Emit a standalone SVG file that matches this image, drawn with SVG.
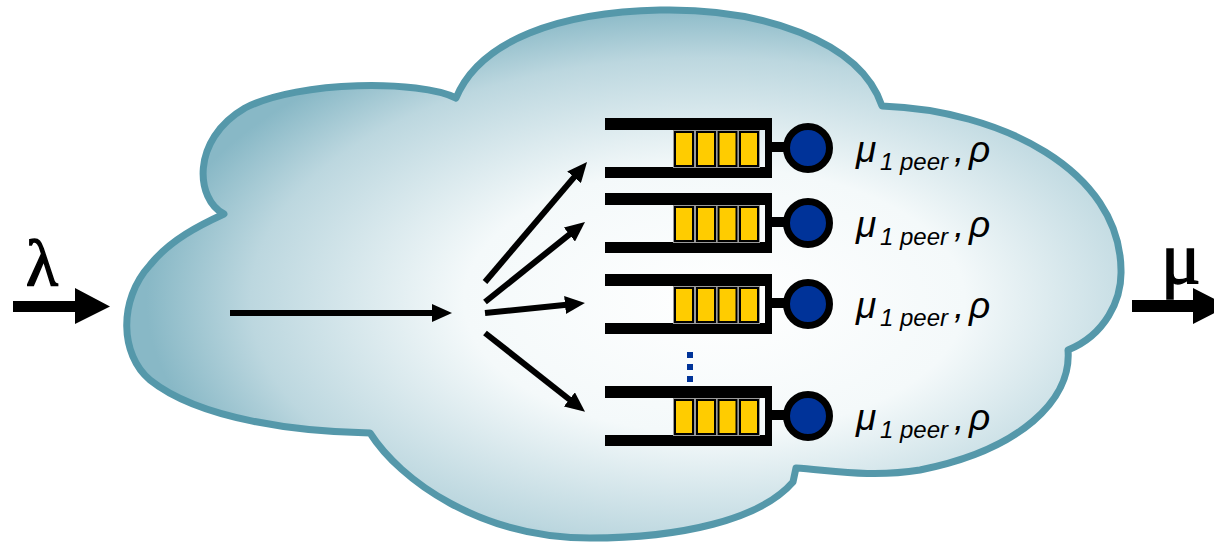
<svg xmlns="http://www.w3.org/2000/svg" xmlns:xlink="http://www.w3.org/1999/xlink" width="1214" height="542" viewBox="0 0 1214 542">
<style>
.bar{fill:#000}
.cell{fill:#ffcc00;stroke:#000;stroke-width:2}
.cellout{fill:none;stroke:#9a9a9a;stroke-width:1}
.srv{fill:#003399;stroke:#000;stroke-width:7}
.dot{fill:#003399}
.lbl{font-family:"Liberation Sans",Arial,sans-serif;font-style:italic;font-size:37px;fill:#000}
.sub{font-size:24px}
.big{font-family:"Liberation Serif","Times New Roman",serif;fill:#000;stroke:#000;stroke-width:1.5}
.conn{stroke:#000;stroke-width:6;fill:none;marker-end:url(#ah)}
</style>
<defs>
<radialGradient id="cg" cx="0.58" cy="0.55" r="0.56" fx="0.6" fy="0.55">
<stop offset="0" stop-color="#ffffff"/>
<stop offset="0.45" stop-color="#f4f9fa"/>
<stop offset="0.82" stop-color="#bcd7df"/>
<stop offset="1" stop-color="#88b8c6"/>
</radialGradient>
<marker id="ah" markerUnits="userSpaceOnUse" viewBox="0 0 20 18" markerWidth="20" markerHeight="18" refX="9" refY="9" orient="auto">
<path d="M0,0 L20,9 L0,18 z" fill="#000"/>
</marker>
<g id="q">
<rect class="bar" x="605" y="0" width="167" height="12"/>
<rect class="bar" x="605" y="49" width="162" height="11"/>
<rect class="bar" x="765" y="0" width="7" height="60"/>
<rect class="cellout" x="673.5" y="12.5" width="21" height="37"/>
<rect class="cellout" x="695.5" y="12.5" width="21" height="37"/>
<rect class="cellout" x="717" y="12.5" width="21" height="37"/>
<rect class="cellout" x="738.5" y="12.5" width="21" height="37"/>
<rect class="cell" x="675" y="14" width="18" height="34"/>
<rect class="cell" x="697" y="14" width="18" height="34"/>
<rect class="cell" x="718.5" y="14" width="18" height="34"/>
<rect class="cell" x="740" y="14" width="18" height="34"/>
<rect class="bar" x="770" y="24" width="20" height="10"/>
<circle class="srv" cx="808" cy="30" r="21.5"/>
</g>
</defs>

<g id="cloud">
<path d="M224,214 C196,200 190,140 245,108 C300,80 420,80 456,98 C480,40 560,12 660,10 C760,8 860,40 882,106 C1000,110 1120,170 1121,270 C1122,300 1105,335 1068,350 C1072,400 1020,450 920,470 C870,478 830,470 796,468 L793,482 C760,520 680,538 590,538 C480,538 400,480 370,433 C300,432 200,420 150,380 C120,355 118,300 150,265 C170,240 200,225 224,214 Z" fill="url(#cg)" stroke="#5598aa" stroke-width="7" stroke-linejoin="round"/>
</g>

<g id="input">
<polygon points="13,301 75,301 75,288 110,306.5 75,324 75,312 13,312" fill="#000"/>
<text class="big" x="26" y="285" font-size="66">λ</text>
</g>

<g id="output">
<polygon points="1132,300 1193,300 1193,288 1228,306 1193,324 1193,312 1132,312" fill="#000"/>
<text class="big" x="1161" y="283" font-size="74">μ</text>
</g>

<g id="queue1">
<use xlink:href="#q" href="#q" transform="translate(0,118)"/>
<text class="lbl" y="162"><tspan x="856">μ</tspan><tspan class="sub" x="880" dy="8">1 peer</tspan><tspan x="954" dy="-8">,</tspan><tspan x="969">ρ</tspan></text>
</g>
<g id="queue2">
<use xlink:href="#q" href="#q" transform="translate(0,193)"/>
<text class="lbl" y="237"><tspan x="856">μ</tspan><tspan class="sub" x="880" dy="8">1 peer</tspan><tspan x="954" dy="-8">,</tspan><tspan x="969">ρ</tspan></text>
</g>
<g id="queue3">
<use xlink:href="#q" href="#q" transform="translate(0,274)"/>
<text class="lbl" y="318"><tspan x="856">μ</tspan><tspan class="sub" x="880" dy="8">1 peer</tspan><tspan x="954" dy="-8">,</tspan><tspan x="969">ρ</tspan></text>
</g>
<g id="queue4">
<use xlink:href="#q" href="#q" transform="translate(0,386)"/>
<text class="lbl" y="430"><tspan x="856">μ</tspan><tspan class="sub" x="880" dy="8">1 peer</tspan><tspan x="954" dy="-8">,</tspan><tspan x="969">ρ</tspan></text>
</g>

<g id="ellipsis">
<rect class="dot" x="687" y="352" width="6" height="6"/>
<rect class="dot" x="687" y="364" width="6" height="6"/>
<rect class="dot" x="687" y="376" width="6" height="6"/>
</g>

<g id="connectors">
<line class="conn" x1="230" y1="313" x2="441" y2="313"/>
<line class="conn" x1="485" y1="282" x2="579.9" y2="170.4"/>
<line class="conn" x1="485" y1="302" x2="576.4" y2="228.9"/>
<line class="conn" x1="485" y1="313" x2="574" y2="304.1"/>
<line class="conn" x1="485" y1="333" x2="576.4" y2="405"/>
</g>
</svg>
